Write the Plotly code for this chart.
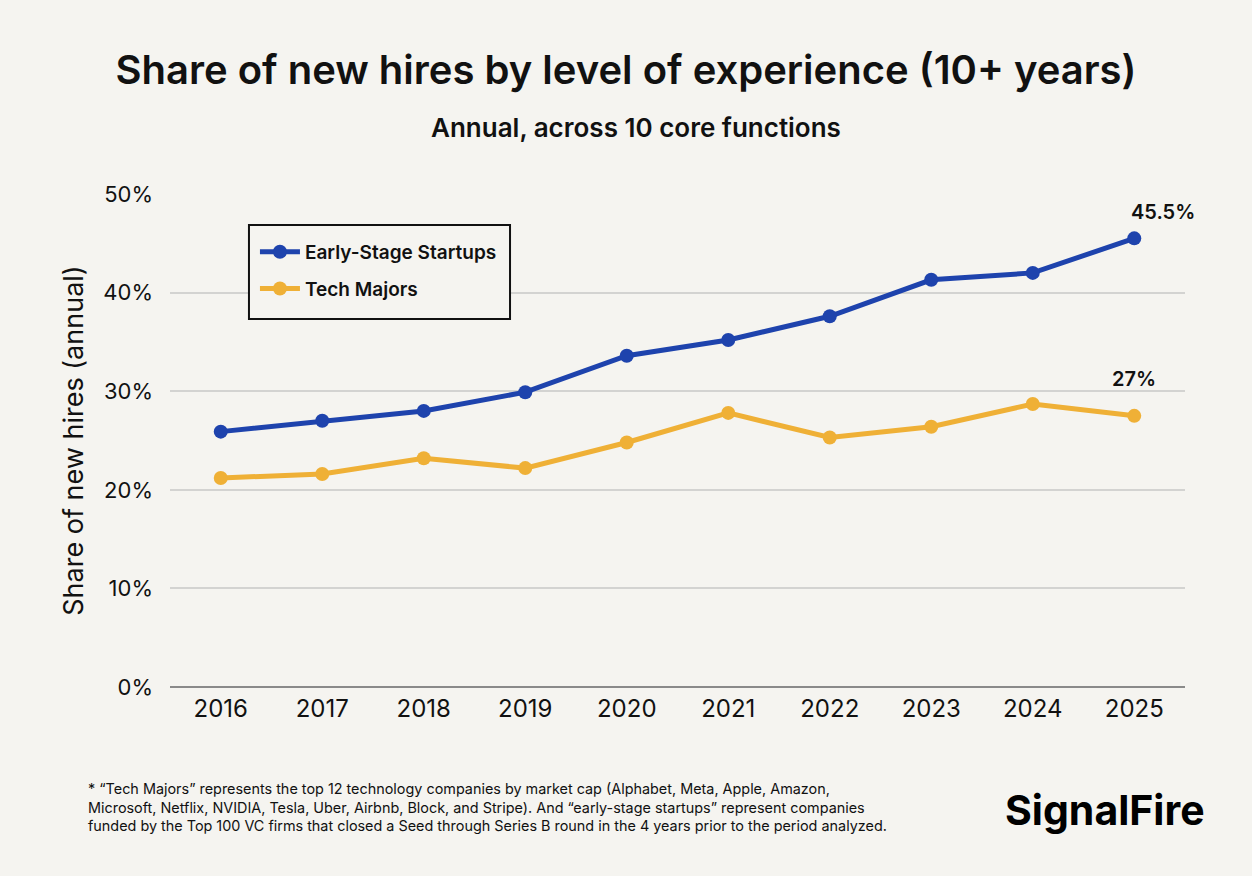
import plotly.graph_objects as go

years = ["2016", "2017", "2018", "2019", "2020", "2021", "2022", "2023", "2024", "2025"]
startups = [25.9, 27.0, 28.0, 29.9, 33.6, 35.2, 37.6, 41.3, 42.0, 45.5]
tech_majors = [21.2, 21.6, 23.2, 22.2, 24.8, 27.8, 25.3, 26.4, 28.7, 27.5]
y_ticks = [0, 10, 20, 30, 40, 50]
end_labels = ["45.5%", "27%"]

BLUE = "#1e43ad"
GOLD = "#efb036"
BG = "#f5f4f0"
INK = "#111111"
FONT = "Inter"

footnote = (
    "* \u201cTech Majors\u201d represents the top 12 technology companies by market cap (Alphabet, Meta, Apple, Amazon,<br>"
    "Microsoft, Netflix, NVIDIA, Tesla, Uber, Airbnb, Block, and Stripe). And \u201cearly-stage startups\u201d represent companies<br>"
    "funded by the Top 100 VC firms that closed a Seed through Series B round in the 4 years prior to the period analyzed."
)

fig = go.Figure()
fig.add_trace(go.Scatter(
    x=years, y=startups, name="Early-Stage Startups", mode="lines+markers",
    legendgroup="a", line=dict(color=BLUE, width=5), marker=dict(size=14, color=BLUE),
))
fig.add_trace(go.Scatter(
    x=years, y=tech_majors, name="Tech Majors", mode="lines+markers",
    legendgroup="b", line=dict(color=GOLD, width=5), marker=dict(size=14, color=GOLD),
))

# labels on the last points (category index, since "2025" looks numeric)
last = len(years) - 1
fig.add_annotation(x=last, y=startups[-1], text=end_labels[0], showarrow=False,
                   xshift=29, yshift=26, font=dict(size=20, color=INK, weight=600))
fig.add_annotation(x=last, y=tech_majors[-1], text=end_labels[1], showarrow=False,
                   xshift=0, yshift=37, font=dict(size=20, color=INK, weight=600))

# legend frame
fig.add_shape(type="rect", xref="paper", yref="paper",
              x0=0.0778, x1=0.335, y0=0.7465, y1=0.937,
              line=dict(color=INK, width=2), fillcolor=BG, layer="above")

fig.add_annotation(xref="paper", yref="paper", x=0.459, y=1.135, xanchor="center", yanchor="middle",
                   text="Annual, across 10 core functions", showarrow=False,
                   font=dict(size=26, color=INK, weight=600))
fig.add_annotation(xref="paper", yref="paper", x=-0.083, y=-0.185, xanchor="left", yanchor="top",
                   text=footnote, showarrow=False, align="left",
                   font=dict(size=14.4, color=INK))
fig.add_annotation(xref="paper", yref="paper", x=1.022, y=-0.25, xanchor="right", yanchor="middle",
                   text="SignalFire", showarrow=False,
                   font=dict(size=41, color="#000", weight=700))

fig.update_layout(
    width=1252, height=876,
    paper_bgcolor=BG, plot_bgcolor=BG,
    font=dict(family=FONT, color=INK),
    margin=dict(l=170, r=67, t=194, b=189),
    title=dict(
        text="Share of new hires by level of experience (10+ years)",
        x=0.5, xanchor="center", y=0.92, yanchor="middle",
        font=dict(size=40, color=INK, weight=600),
    ),
    legend=dict(
        x=0.0837, y=0.921, xanchor="left", yanchor="top",
        bgcolor="rgba(0,0,0,0)", borderwidth=0,
        font=dict(size=19, color=INK, weight=600),
        itemwidth=40, tracegroupgap=9,
    ),
    showlegend=True,
)

fig.update_xaxes(
    type="category", range=[-0.5, 9.5], showgrid=False,
    tickfont=dict(size=24, color=INK), ticks="", ticklabelstandoff=5,
)
fig.update_yaxes(
    range=[0, 50], tickvals=y_ticks, ticktext=[f"{v}%" for v in y_ticks],
    gridcolor="#d3d3d1", gridwidth=1.5, zeroline=True, zerolinecolor="#8a8a8a", zerolinewidth=1.5,
    tickfont=dict(size=22, color=INK), ticklabelstandoff=16,
    title=dict(text="Share of new hires (annual)", font=dict(size=27, color=INK), standoff=11),
)

fig.write_html("out.html", config={"displayModeBar": False},
               post_script="document.body.style.margin='0';")
